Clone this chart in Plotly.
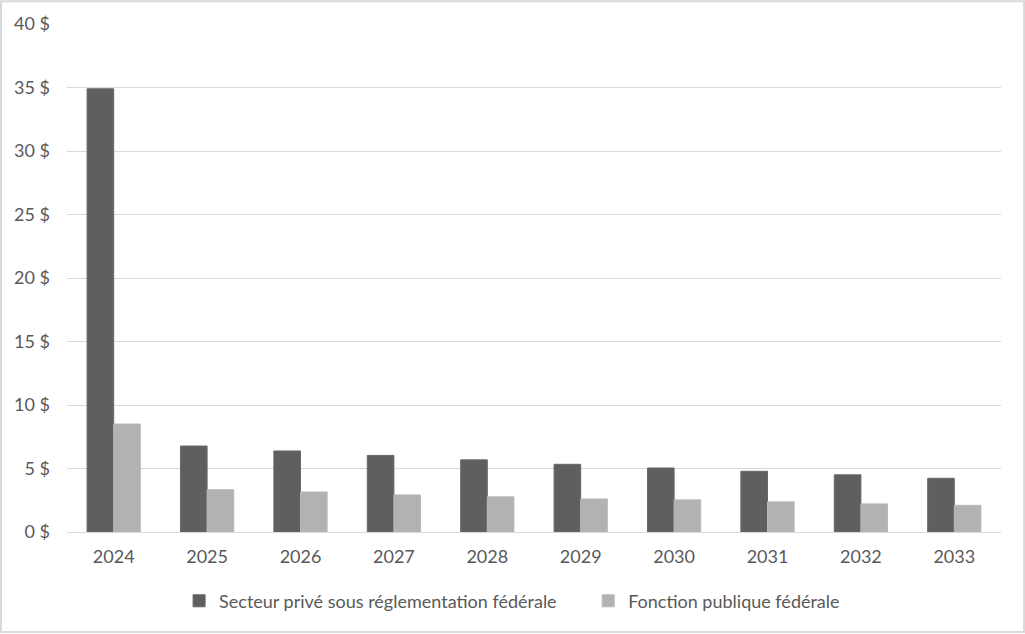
import plotly.graph_objects as go

years = ["2024", "2025", "2026", "2027", "2028", "2029", "2030", "2031", "2032", "2033"]
prive = [34.9, 6.77, 6.38, 6.03, 5.68, 5.33, 5.04, 4.78, 4.5, 4.23]
publique = [8.5, 3.33, 3.15, 2.92, 2.77, 2.6, 2.53, 2.37, 2.21, 2.1]
y_ticks = [0, 5, 10, 15, 20, 25, 30, 35, 40]

fig = go.Figure()
fig.add_trace(go.Bar(x=years, y=prive, name="Secteur privé sous réglementation fédérale",
                     marker=dict(color="#5f5f5f", line=dict(color="#686868", width=1)),
                     legend="legend"))
fig.add_trace(go.Bar(x=years, y=publique, name="Fonction publique fédérale",
                     marker=dict(color="#b2b2b2", line=dict(color="#b8b8b8", width=1)),
                     legend="legend2"))

# outer frame of the chart
fig.add_shape(type="rect", xref="paper", yref="paper",
              x0=-0.0707, x1=1.0247, y0=-0.197, y1=1.045,
              line=dict(color="#d9d9d9", width=2), layer="below")

legend_style = dict(orientation="h", xanchor="left", y=-0.136, yanchor="middle",
                    font=dict(size=18, color="#595959"), bgcolor="rgba(0,0,0,0)")

fig.update_layout(
    width=1025, height=634,
    margin=dict(l=67, r=24, t=24, b=102),
    paper_bgcolor="white", plot_bgcolor="white",
    font=dict(family="Lato, Open Sans, sans-serif", size=18, color="#595959"),
    barmode="group", bargap=0.43, bargroupgap=0,
    showlegend=True,
    legend=dict(x=0.120, **legend_style),
    legend2=dict(x=0.558, **legend_style),
    xaxis=dict(showgrid=False, showline=True, linecolor="#d9d9d9", linewidth=1,
               ticks="", ticklabelstandoff=8, tickfont=dict(size=18)),
    yaxis=dict(range=[0, 40], tickvals=y_ticks, ticktext=[f"{v} $" for v in y_ticks],
               showgrid=True, gridcolor="#d9d9d9", gridwidth=1, zeroline=False,
               showline=False, ticks="", ticklabelstandoff=16, tickfont=dict(size=18)),
)

# drop the page's default body margin so the chart sits at the window's corner
fig.write_html("out.html", config={"displayModeBar": False},
               post_script="document.body.style.margin='0';")
